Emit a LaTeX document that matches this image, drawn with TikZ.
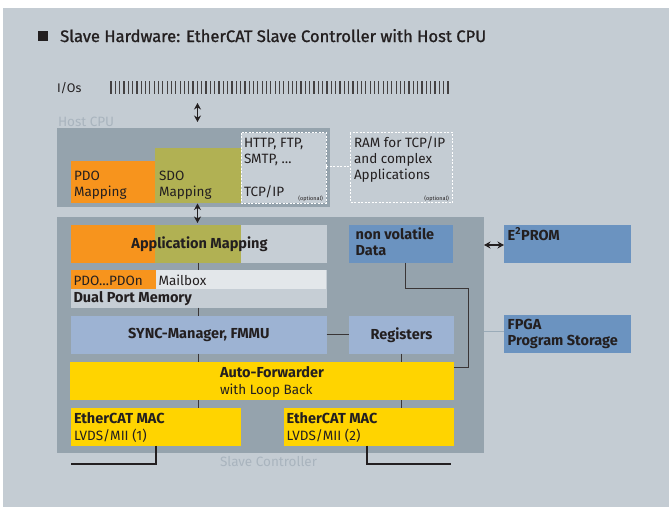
\documentclass[tikz,border=0pt]{standalone}
\usepackage{fontspec}
\setmainfont{Fira Sans}
\newfontfamily\titlefont{Fira Sans}[FakeBold=1.2]
\usetikzlibrary{arrows.meta}
\definecolor{bg}{HTML}{C4CCD3}
\definecolor{dark}{HTML}{95A3AD}
\definecolor{org}{HTML}{F7941D}
\definecolor{olv}{HTML}{B1B153}
\definecolor{lgr}{HTML}{C6CED5}
\definecolor{mbx}{HTML}{E3E7EA}
\definecolor{lblue}{HTML}{9DB3D3}
\definecolor{mblue}{HTML}{6B93C0}
\definecolor{ylw}{HTML}{FFD400}
\definecolor{ink}{HTML}{231F20}
\definecolor{lbl}{HTML}{A9B4BE}
\definecolor{fline}{HTML}{9AABB8}
\begin{document}
\begin{tikzpicture}[x=1pt,y=-1pt,
  blk/.style={draw=none,inner sep=0pt,outer sep=0pt,anchor=north west},
  txt/.style={inner sep=0pt,outer sep=0pt,anchor=base west,align=left,text=ink,font=\fontsize{13.5}{16}\selectfont},
  btxt/.style={txt,font=\fontsize{14.5}{16}\selectfont\bfseries},
  ctxt/.style={btxt,anchor=center,align=center},
  opt/.style={inner sep=0pt,outer sep=0pt,anchor=base east,text=ink,font=\fontsize{5.5}{6}\selectfont},
  gl/.style={inner sep=0pt,outer sep=0pt,anchor=base west,text=lbl,font=\fontsize{13.5}{16}\selectfont},
  conn/.style={draw=ink!90,line width=0.9pt},
  cable/.style={draw=ink,line width=1.8pt},
  dsh/.style={draw=white,line width=0.8pt,dash pattern=on 2pt off 1.5pt},
  dbl/.style={ink,line width=1.1pt,{Stealth[length=6.5pt,width=7pt]}-{Stealth[length=6.5pt,width=7pt]}}
]
\useasboundingbox (0,0) rectangle (670,507);
\fill[white] (0,0) rectangle (670,507);
\fill[bg] (3,8) rectangle (669,507);

% title
\node[blk,fill=ink,minimum width=10pt,minimum height=10pt] (sq) at (38,31) {};
\node[inner sep=0pt,anchor=base west,text=ink,font=\titlefont\fontsize{16.6}{18}\selectfont] (title) at (60,42) {Slave Hardware: EtherCAT Slave Controller with Host CPU};

% I/Os
\node[txt,font=\fontsize{12.5}{15}\selectfont] (ios) at (57,92.5) {I/Os};
\foreach \i in {0,...,78} {
  \fill[ink!85] ({111+\i*4.32-0.6},81) rectangle ({111+\i*4.32+0.6},94);
}
\coordinate (iot) at (197.5,103);
\coordinate (iob) at (197.5,122);

% Host CPU
\node[gl] (hostlbl) at (58,126) {Host CPU};
\node[blk,fill=dark,minimum width=273pt,minimum height=78.7pt] (host) at (57,128) {};
\node[blk,fill=org,minimum width=84pt,minimum height=42pt] (pdo) at (71,161) {};
\node[blk,fill=olv,minimum width=86pt,minimum height=55.3pt] (sdo) at (155,147.7) {};
\node[blk,fill=lgr,minimum width=85pt,minimum height=70.3pt] (tcp) at (241,132.7) {};
\draw[dsh] (tcp.north west) rectangle (tcp.south east);
\node[blk,minimum width=102.7pt,minimum height=69.3pt] (ram) at (350,132.7) {};
\draw[dsh] (ram.north west) rectangle (ram.south east);
\draw[dsh] (tcp.east |- 0,166) -- (ram.west |- 0,166);

\node[txt] (pdot) at (74,196.5) {PDO\\Mapping};
\node[txt] (sdot) at (159,196.5) {SDO\\Mapping};
\node[txt] (httpt) at (244,163.3) {HTTP, FTP,\\SMTP, …};
\node[txt] (tcpt) at (244,196) {TCP/IP};
\node[opt] (opt1) at (323,200.5) {(optional)};
\node[txt] (ramt) at (354,179.3) {RAM for TCP/IP\\and complex\\Applications};
\node[opt] (opt2) at (449,200.5) {(optional)};

\draw[dbl] (iot) -- (iob);

% Slave controller
\node[blk,fill=dark,minimum width=427pt,minimum height=236.3pt] (slave) at (57,216.7) {};
\coordinate (mat) at (197.5,203.5);
\coordinate (mab) at (197.5,223);
\draw[dbl] (mat) -- (mab);

\node[blk,fill=org,minimum width=84pt,minimum height=37.7pt] (am1) at (71,225) {};
\node[blk,fill=olv,minimum width=86pt,minimum height=37.7pt] (am2) at (155,225) {};
\node[blk,fill=lgr,minimum width=85.7pt,minimum height=37.7pt] (am3) at (241,225) {};
\node[ctxt] (amt) at (199.5,244.5) {Application Mapping};

\node[blk,fill=lgr,minimum width=255.7pt,minimum height=37.7pt] (dpm) at (71,270) {};
\node[blk,fill=org,minimum width=85pt,minimum height=18.7pt] (pdos) at (71,270) {};
\node[blk,fill=mbx,minimum width=170pt,minimum height=18.7pt] (mbox) at (156,270) {};
\node[txt] (pdost) at (73.5,285) {PDO…PDOn};
\node[txt] (mboxt) at (158.5,285) {Mailbox};
\node[btxt] (dpmt) at (73.5,302.3) {Dual Port Memory};

\node[blk,fill=lblue,minimum width=255.7pt,minimum height=37.7pt] (sync) at (71,316) {};
\node[ctxt] at (sync.center) {SYNC-Manager, FMMU};
\node[blk,fill=lblue,minimum width=105pt,minimum height=37.7pt] (reg) at (349,316) {};
\node[ctxt] at (reg.center) {Registers};

\node[blk,fill=mblue,minimum width=103.7pt,minimum height=37.7pt] (nv) at (349,225) {};
\node[btxt] (nvt) at (355.7,255.7) {non volatile\\Data};

\node[blk,fill=ylw,minimum width=384pt,minimum height=38pt] (af) at (70,362) {};
\node[btxt] (aft) at (220,377.7) {Auto-Forwarder};
\node[txt] (aft2) at (220,394.3) {with Loop Back};

\node[blk,fill=ylw,minimum width=170pt,minimum height=37.7pt] (mac1) at (71,408) {};
\node[blk,fill=ylw,minimum width=170pt,minimum height=37.7pt] (mac2) at (284,408) {};
\node[btxt] (mac1t) at (74,423.3) {EtherCAT MAC};
\node[txt] (mac1t2) at (74,440.5) {LVDS/MII (1)};
\node[btxt] (mac2t) at (286.7,423.3) {EtherCAT MAC};
\node[txt] (mac2t2) at (286.7,440.5) {LVDS/MII (2)};

\node[gl] (slavelbl) at (220,466.5) {Slave Controller};

% external
\node[blk,fill=mblue,minimum width=126.7pt,minimum height=37.7pt] (eep) at (504,225) {};
\node[btxt] (eept) at (507.7,240) {E\textsuperscript{2}PROM};
\node[blk,fill=mblue,minimum width=126.7pt,minimum height=37.4pt] (fpga) at (504,315.3) {};
\node[btxt] (fpgat) at (507.7,345.7) {FPGA\\Program Storage};

% connectors
\coordinate (cx) at (198,0);
\coordinate (rx) at (401.7,0);
\draw[conn] (am2.south -| cx) -- (dpm.north -| cx);
\draw[conn] (dpm.south -| cx) -- (sync.north -| cx);
\draw[conn] (sync.east) -- (reg.west);
\draw[conn] (sync.south -| cx) -- (af.north -| cx);
\draw[conn] (reg.south -| rx) -- (af.north -| rx);
\draw[conn] (af.south -| cx) -- (mac1.north -| cx);
\draw[conn] (af.south -| rx) -- (mac2.north -| rx);
\draw[conn] (nv.south -| 405.7,0) |- (468.7,288.3) |- (af.east |- 0,367.7);
\draw[dbl] (slave.east |- 0,245) -- (eep.west |- 0,245);
\draw[draw=fline,line width=1pt] (slave.east |- 0,331.7) -- (fpga.west |- 0,331.7);
\coordinate (c1) at (71,464);
\coordinate (c2) at (451,464);
\draw[cable] (mac1.south -| 156,0) |- (c1);
\draw[cable] (mac2.south -| 366.7,0) |- (c2);
\end{tikzpicture}
\end{document}
